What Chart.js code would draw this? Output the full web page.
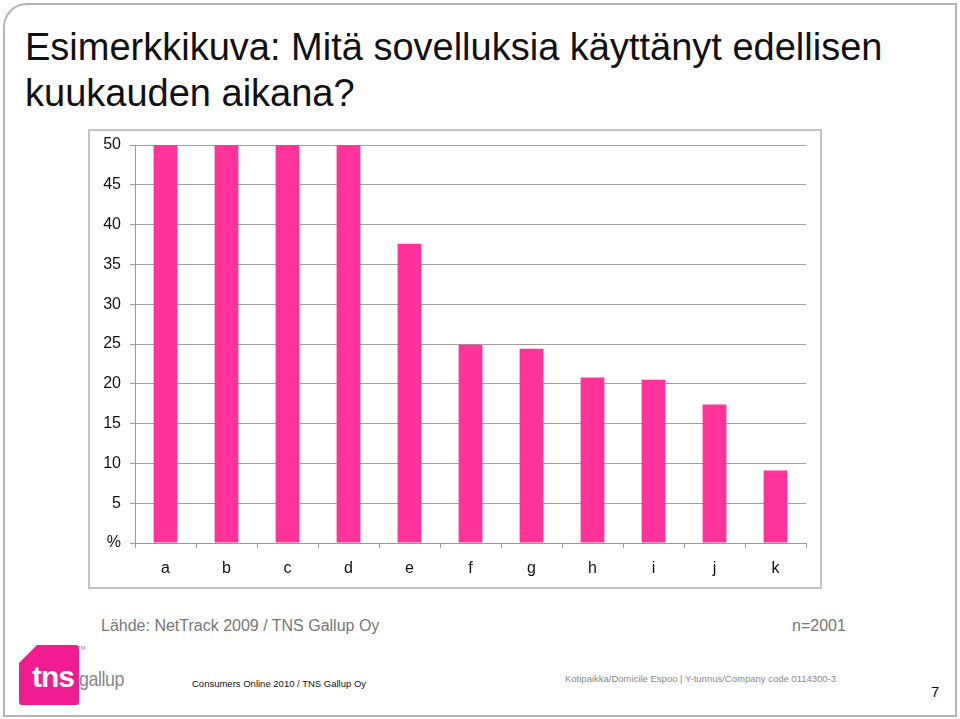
<html lang="fi">
  <head>
    <title>Esimerkkikuva</title>
    <meta charset="utf-8">
    <script src="https://cdn.jsdelivr.net/npm/chart.js@4.4.1/dist/chart.umd.min.js"></script>
    <style>
      body { margin: 0; background: #fff; font-family: Arial, "Liberation Sans", sans-serif; }
      #slide { position: relative; width: 960px; height: 719px; overflow: hidden; }
      #frame { position: absolute; left: 3px; top: 3px; width: 950px; height: 710px;
               border: 2px solid #b5b5b5; border-top-left-radius: 24px; }
      #title { position: absolute; left: 25px; top: 24px; font-size: 38px; line-height: 46px; color: #111; }
      #chartBox { position: absolute; left: 88px; top: 129px; width: 730px; height: 456px;
                  border: 2px solid #c4c4c4; }
      #source { position: absolute; left: 101px; top: 617px; font-size: 16px; color: #777; }
      #nval { position: absolute; left: 792px; top: 617px; font-size: 16px; color: #777; }
      #logo { position: absolute; left: 19px; top: 645px; width: 60px; height: 60px; background: #ee1c8f;
              clip-path: polygon(18px 0, 100% 0, 100% 100%, 0 100%, 0 18px); border-radius: 3px; }
      #tns { position: absolute; left: 32px; top: 660px; font-size: 30px; font-weight: bold; color: #fff; letter-spacing: -1px; }
      #gallup { position: absolute; left: 79px; top: 667px; font-size: 21px; color: #888; letter-spacing: -0.5px;
                transform: scaleX(0.85); transform-origin: left top; }
      #tm { position: absolute; left: 77px; top: 645px; font-size: 6px; color: #888; }
      #consumers { position: absolute; left: 192px; top: 678px; font-size: 9.5px; color: #111; }
      #domicile { position: absolute; left: 565px; top: 673px; font-size: 9.5px; color: #888; }
      #page { position: absolute; left: 931px; top: 683px; font-size: 15px; color: #111; }
    </style>
  </head>
  <body>
  <div id="slide">
    <div id="frame"></div>
    <div id="title">Esimerkkikuva: Mitä sovelluksia käyttänyt edellisen<br>kuukauden aikana?</div>
    <div id="chartBox">
      <canvas id="myChart" width="730" height="456"></canvas>
    </div>
    <div id="source">Lähde: NetTrack 2009 / TNS Gallup Oy</div>
    <div id="nval">n=2001</div>
    <div id="logo"></div>
    <div id="tns">tns</div>
    <div id="gallup">gallup</div>
    <div id="tm">TM</div>
    <div id="consumers">Consumers Online 2010 / TNS Gallup Oy</div>
    <div id="domicile">Kotipaikka/Domicile Espoo | Y-tunnus/Company code 0114300-3</div>
    <div id="page">7</div>
  </div>
  <script>
    // categories and values (first four bars reach the top of the axis)
    var categories = ["a", "b", "c", "d", "e", "f", "g", "h", "i", "j", "k"];
    var values = [50, 50, 50, 50, 37.6, 24.9, 24.4, 20.8, 20.5, 17.4, 9.1];
    var yMax = 50;
    var yStep = 5;
    var zeroLabel = "%";

    var ctx = document.getElementById("myChart").getContext('2d');
    new Chart(ctx, {
      type: 'bar',
      data: {
        labels: categories,
        datasets: [{
          data: values,
          backgroundColor: "#ff3399",
          borderWidth: 0,
          categoryPercentage: 1,
          barPercentage: 0.39
        }]
      },
      options: {
        responsive: false,
        animation: false,
        layout: { padding: { top: 14, right: 14, left: 0, bottom: 0 } },
        plugins: {
          legend: { display: false },
          tooltip: { enabled: false }
        },
        scales: {
          x: {
            grid: { drawOnChartArea: false, drawTicks: true, tickLength: 5, color: "#999", offset: true },
            border: { color: "#999", width: 1 },
            ticks: { color: "#111", font: { family: "Arial", size: 16 }, padding: 11, maxRotation: 0 },
            afterFit: function(scale) { scale.height = 44; }
          },
          y: {
            min: 0,
            max: yMax,
            grid: { color: "#a0a0a0", tickLength: 5 },
            border: { color: "#999", width: 1 },
            ticks: {
              stepSize: yStep,
              color: "#111",
              font: { family: "Arial", size: 16 },
              padding: 9,
              callback: function(value) { return value === 0 ? zeroLabel : value; }
            },
            afterFit: function(scale) {
              scale.width = 45;
              scale.paddingTop = 0;
              scale.paddingBottom = 0;
            }
          }
        }
      }
    });
  </script>
  </body>
</html>
